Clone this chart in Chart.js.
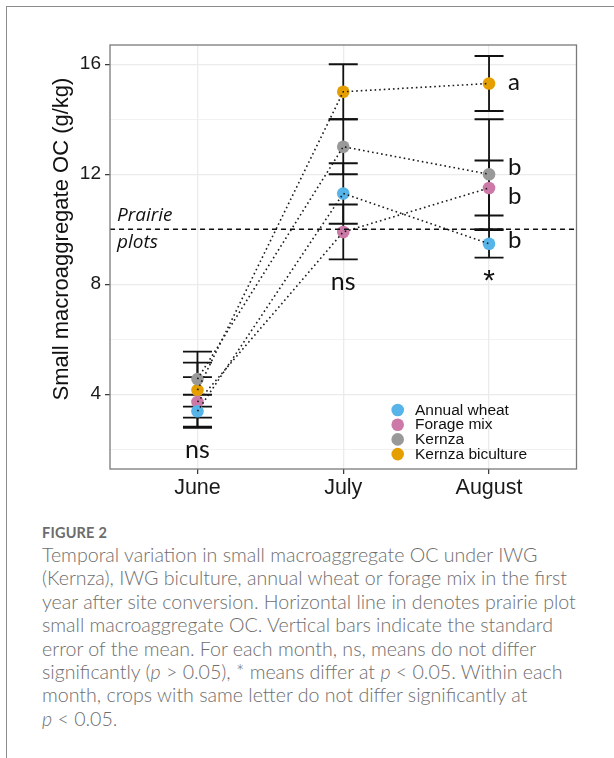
<!DOCTYPE html>
<html>
<head>
<meta charset="utf-8">
<script src="https://cdn.jsdelivr.net/npm/chart.js@4.4.1/dist/chart.umd.min.js"></script>
<style>
  html, body { margin: 0; padding: 0; background: #fff; }
  body { width: 614px; height: 758px; position: relative; overflow: hidden; font-family: Lato, sans-serif; }
  #frame { position: absolute; left: 6px; top: 6px; right: -4px; bottom: -4px;
           border-left: 1.5px solid #8c8c8c; border-top: 1.5px solid #8c8c8c; }
  #chartBox { position: absolute; left: 0; top: 0; width: 614px; height: 510px; }
  #caption { position: absolute; left: 42px; top: 523px; color: #6e6e6e; }
  .fig { font-size: 14.5px; font-weight: 700; line-height: 20px; color: #6c6c6c; letter-spacing: 0.2px; }
  .txt { font-size: 19.6px; font-weight: 300; line-height: 23.4px; white-space: nowrap; }
</style>
</head>
<body>
<div id="frame"></div>
<div id="chartBox"><canvas id="myChart" width="614" height="510"></canvas></div>
<div id="caption">
  <div class="fig">FIGURE 2</div>
  <div class="txt">Temporal variation in small macroaggregate OC under IWG</div>
  <div class="txt">(Kernza), IWG biculture, annual wheat or forage mix in the first</div>
  <div class="txt">year after site conversion. Horizontal line in denotes prairie plot</div>
  <div class="txt">small macroaggregate OC. Vertical bars indicate the standard</div>
  <div class="txt">error of the mean. For each month, ns, means do not differ</div>
  <div class="txt">significantly (<i>p</i> &gt; 0.05), * means differ at <i>p</i> &lt; 0.05. Within each</div>
  <div class="txt">month, crops with same letter do not differ significantly at</div>
  <div class="txt"><i>p</i> &lt; 0.05.</div>
</div>
<script>
const months = ['June', 'July', 'August'];
const crops = ['Annual wheat', 'Forage mix', 'Kernza', 'Kernza biculture'];
const cropColors = ['#56B4E9', '#CC79A7', '#999999', '#E69F00'];

// mean small macroaggregate OC (g/kg), June / July / August
const annualWheat = [3.38, 11.3, 9.47];
const forageMix = [3.72, 9.9, 11.5];
const kernza = [4.55, 13.0, 12.0];
const kernzaBiculture = [4.15, 15.0, 15.3];

// standard errors
const annualWheatSE = [0.6, 1.1, 0.5];
const forageMixSE = [0.9, 1.0, 1.0];
const kernzaSE = [1.0, 1.0, 2.0];
const kernzaBicultureSE = [1.0, 1.0, 1.0];

const prairieOC = 10;
const monthSig = ['ns', 'ns', '*'];
const augustLetters = ['b', 'b', 'b', 'a'];
const yTicks = [4, 8, 12, 16];

const means = [annualWheat, forageMix, kernza, kernzaBiculture];
const errors = [annualWheatSE, forageMixSE, kernzaSE, kernzaBicultureSE];

// where the text labels sit, in data units (baselines)
const sigY = [1.67, 7.78, 7.78];
const letterY = [9.3, 10.93, 11.96, 15.05];
const letterX = 2.13;

const overlay = {
    id: 'overlay',
    beforeDatasetsDraw(chart) {
        const {ctx, scales: {x, y}} = chart;
        ctx.save();
        ctx.strokeStyle = '#111';
        ctx.lineWidth = 1.8;
        means.forEach((series, i) => {
            series.forEach((m, j) => {
                const px = x.getPixelForValue(j);
                const lo = y.getPixelForValue(m - errors[i][j]);
                const hi = y.getPixelForValue(m + errors[i][j]);
                ctx.beginPath();
                ctx.moveTo(px, lo); ctx.lineTo(px, hi);
                ctx.moveTo(px - 14.5, lo); ctx.lineTo(px + 14.5, lo);
                ctx.moveTo(px - 14.5, hi); ctx.lineTo(px + 14.5, hi);
                ctx.stroke();
            });
        });
        ctx.restore();
    },
    afterDatasetsDraw(chart) {
        const {ctx, chartArea: a, scales: {x, y}} = chart;
        ctx.save();

        // prairie reference line
        const py = y.getPixelForValue(prairieOC);
        ctx.strokeStyle = '#111';
        ctx.lineWidth = 1.4;
        ctx.setLineDash([5, 4]);
        ctx.beginPath();
        ctx.moveTo(a.left, py); ctx.lineTo(a.right, py);
        ctx.stroke();
        ctx.setLineDash([]);

        ctx.fillStyle = '#111';
        ctx.textAlign = 'left';
        ctx.textBaseline = 'alphabetic';
        ctx.font = 'italic 19px "Open Sans"';
        ctx.fillText('Prairie', a.left + 7, py - 8.3);
        ctx.fillText('plots', a.left + 7, py + 18.3);

        // significance per month
        ctx.textAlign = 'center';
        monthSig.forEach((s, j) => {
            ctx.font = s === '*' ? '30px "Liberation Sans"' : '25px Lato';
            ctx.fillText(s, x.getPixelForValue(j), y.getPixelForValue(sigY[j]));
        });

        // letters for August
        ctx.font = '24px Lato';
        ctx.textAlign = 'left';
        augustLetters.forEach((l, i) => {
            ctx.fillText(l, x.getPixelForValue(letterX), y.getPixelForValue(letterY[i]));
        });

        // legend inside panel
        ctx.font = '15.5px "Liberation Sans"';
        ctx.textBaseline = 'middle';
        crops.forEach((c, i) => {
            const ly = a.bottom - 59 + i * 14.7;
            ctx.fillStyle = cropColors[i];
            ctx.beginPath();
            ctx.arc(a.left + 287.7, ly, 6.3, 0, Math.PI * 2);
            ctx.fill();
            ctx.fillStyle = '#111';
            ctx.fillText(c, a.left + 305, ly + 0.5);
        });

        // panel border
        ctx.strokeStyle = '#7a7a7a';
        ctx.lineWidth = 1.3;
        ctx.strokeRect(a.left, a.top, a.right - a.left, a.bottom - a.top);

        // y axis title
        ctx.translate(62, 239);
        ctx.rotate(-Math.PI / 2);
        ctx.textAlign = 'center';
        ctx.textBaseline = 'middle';
        ctx.fillStyle = '#111';
        ctx.font = '22px "Liberation Sans"';
        ctx.fillText('Small macroaggregate OC (g/kg)', 0, 0);
        ctx.restore();
    }
};

const pointSets = crops.map((c, i) => ({
    label: c,
    data: means[i].map((v, j) => ({x: j, y: v})),
    showLine: false,
    pointRadius: 6.3,
    pointHoverRadius: 6.3,
    pointBackgroundColor: cropColors[i],
    pointBorderWidth: 0,
    order: 2
}));

const lineSets = crops.map((c, i) => ({
    label: c + ' line',
    data: means[i].map((v, j) => ({x: j, y: v})),
    showLine: true,
    borderColor: '#1a1a1a',
    borderWidth: 1.6,
    borderDash: [1.6, 3],
    pointRadius: 0,
    fill: false,
    order: 1
}));

const isMajor = v => yTicks.includes(v);

const config = {
    type: 'scatter',
    data: { datasets: [...pointSets, ...lineSets] },
    options: {
        responsive: false,
        animation: false,
        events: [],
        layout: { padding: { top: 45, right: 37.5, left: 0, bottom: 0 } },
        plugins: {
            legend: { display: false },
            tooltip: { enabled: false }
        },
        scales: {
            x: {
                type: 'linear',
                min: -0.6,
                max: 2.6,
                afterBuildTicks: s => { s.ticks = months.map((m, i) => ({value: i})); },
                afterFit: s => { s.height = 41; },
                ticks: {
                    callback: v => months[v],
                    font: { family: 'Liberation Sans', size: 21.5 },
                    color: '#1a1a1a',
                    padding: 1,
                    maxRotation: 0
                },
                grid: { color: '#ebebeb', lineWidth: 1.3, tickColor: '#333', tickLength: 5, tickWidth: 1.2 },
                border: { display: false }
            },
            y: {
                min: 1.28,
                max: 16.7,
                afterBuildTicks: s => { s.ticks = yTicks.flatMap(v => [v - 2, v]).map(v => ({value: v})); },
                afterFit: s => { s.width = 110; },
                ticks: {
                    callback: v => isMajor(v) ? String(v) : '',
                    font: { family: 'Liberation Sans', size: 19 },
                    color: '#1a1a1a',
                    padding: 4
                },
                grid: {
                    color: '#ebebeb',
                    lineWidth: c => (c.tick && isMajor(c.tick.value)) ? 1.3 : 0.7,
                    tickColor: c => (c.tick && isMajor(c.tick.value)) ? '#333' : 'rgba(0,0,0,0)',
                    tickLength: 5,
                    tickWidth: 1.2
                },
                border: { display: false }
            }
        }
    },
    plugins: [overlay]
};

const myChart = new Chart(document.getElementById('myChart'), config);
</script>
</body>
</html>
